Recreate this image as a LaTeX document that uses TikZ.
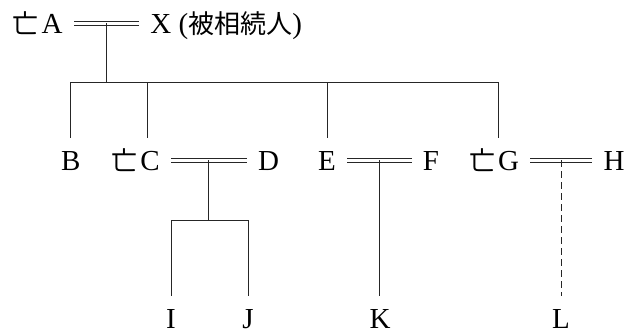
\documentclass[tikz,border=0pt]{standalone}
\usepackage{fontspec}
\setmainfont{Liberation Serif}
\newfontfamily\jp{Noto Sans CJK JP}
\newcommand\jpsmall{\jp\fontsize{13}{15}\selectfont}
\newcommand\died{{\jpsmall 亡}\kern1.5pt}
\usetikzlibrary{calc}
\tikzset{
  person/.style={anchor=base, inner xsep=5.5pt, inner ysep=6.4pt, text height=9.6pt, text depth=0pt,
    font=\fontsize{14.5}{17}\selectfont},
  kin/.style={line width=0.5pt, black!85},
  marriage/.style={kin, double, double distance=1.5pt},
  heir/.style={kin, dash pattern=on 3.5pt off 2pt}
}
\begin{document}
\begin{tikzpicture}[x=0.5pt, y=-0.5pt]
  \useasboundingbox (0,0) rectangle (626,332);
  \node[person, anchor=base east] (A) at (74,33) {\died A};
  \node[person, anchor=base west] (X) at (139,33) {X ({\jpsmall 被相続人})};
  \node[person] (B) at (70.7,170) {B};
  \node[person] (C) at (135.5,170) {\died C};
  \node[person] (D) at (268.5,170) {D};
  \node[person] (E) at (327,170) {E};
  \node[person] (F) at (431,170) {F};
  \node[person] (G) at (494,170) {\died G};
  \node[person] (H) at (614,170) {H};
  \node[person] (I) at (171,328) {I};
  \node[person] (J) at (248,328) {J};
  \node[person] (K) at (380,328) {K};
  \node[person] (L) at (561,328) {L};
  \coordinate (trunk) at (0,82);
  \coordinate (sib) at (0,220);
  \coordinate (cdrop) at ([xshift=5.75pt]C.north);
  \coordinate (gdrop) at ([xshift=2pt]G.north);
  \draw[marriage] (A) -- (X) coordinate[midway] (ax);
  \draw[marriage] (C) -- (D) coordinate[midway] (cd);
  \draw[marriage] (E) -- (F) coordinate[midway] (ef);
  \draw[marriage] (G) -- (H) coordinate[midway] (gh);
  \draw[kin] (ax) -- (ax |- trunk);
  \draw[kin] (B.north) -- (B.north |- trunk) -- (gdrop |- trunk) -- (gdrop);
  \draw[kin] (cdrop) -- (cdrop |- trunk);
  \draw[kin] (E.north) -- (E.north |- trunk);
  \draw[kin] (cd) -- (cd |- sib);
  \draw[kin] (I.north) -- (I.north |- sib) -- (J.north |- sib) -- (J.north);
  \draw[kin] (ef) -- (ef |- K.north);
  \draw[heir] (gh) -- (gh |- L.north);
\end{tikzpicture}
\end{document}
